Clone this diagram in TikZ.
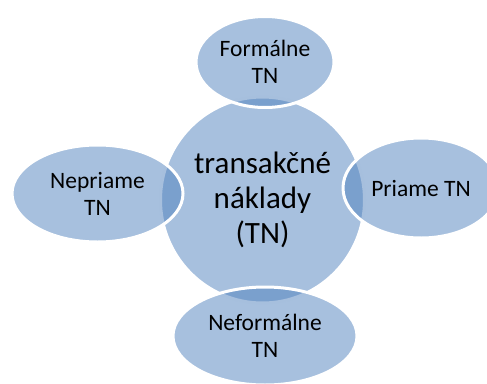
\documentclass[tikz,border=0pt]{standalone}
\usepackage{fontspec}
\setmainfont{Carlito}
\usetikzlibrary{shapes.geometric}
\definecolor{accent}{RGB}{79,129,189}
\begin{document}
\begin{tikzpicture}[x=1pt,y=-1pt,
  bubble/.style={ellipse, fill=accent, fill opacity=0.5, text opacity=1,
    draw=white, line width=3pt, inner sep=0pt, align=center, text=black},
  sat/.style={bubble, font=\fontsize{23.5}{27}\selectfont},
  hub/.style={bubble, font=\fontsize{31}{35}\selectfont}]
\useasboundingbox (0,0) rectangle (487,383);
% central circle
\node[hub, minimum width=204pt, minimum height=206pt] (tn) at (262.5,200)
  {transakčné\\náklady\\(TN)};
% surrounding ellipses, drawn on top
\node[sat, minimum width=138pt, minimum height=91pt] (formal) at (265,62)
  {Formálne\\TN};
\node[sat, minimum width=156pt, minimum height=100pt] (direct) at (421,188)
  {Priame TN};
\node[sat, minimum width=171pt, minimum height=97pt] (indirect) at (97.5,193.5)
  {Nepriame\\TN};
\node[sat, minimum width=184pt, minimum height=98pt] (informal) at (265,336)
  {Neformálne\\TN};
\end{tikzpicture}
\end{document}
